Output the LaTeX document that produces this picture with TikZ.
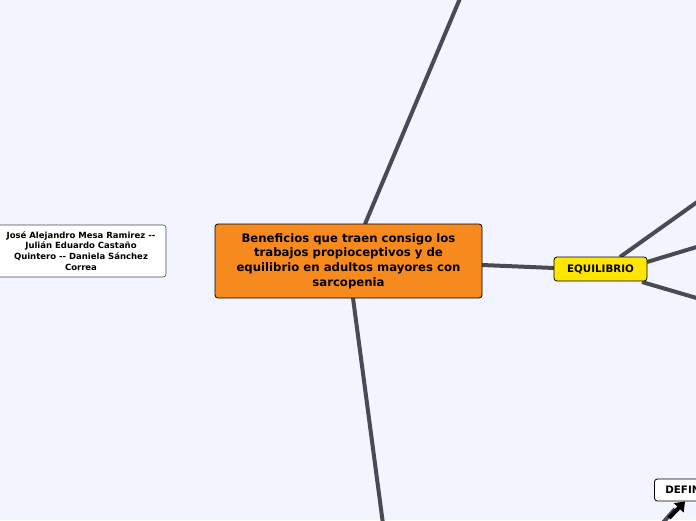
\documentclass[tikz,border=0pt]{standalone}
\usepackage{fontspec}
\setmainfont{DejaVu Sans}
\usetikzlibrary{arrows.meta}
\definecolor{bg}{RGB}{242,245,255}
\definecolor{edgec}{RGB}{74,74,82}
\definecolor{orangec}{RGB}{247,138,31}
\definecolor{yellowc}{RGB}{255,230,0}
\tikzset{
  conn/.style={draw=edgec, line width=4pt},
  topic/.style={draw=black, line width=0.8pt, rounded corners=3pt, font=\bfseries, align=center, inner sep=0pt},
}
\begin{document}
\begin{tikzpicture}[x=1pt,y=-1pt]
\fill[bg] (0,0) rectangle (696,520);
\useasboundingbox (0,0) rectangle (696,520);
\begin{scope}
\clip (0,0) rectangle (696,520);
% coordinates for free ends
\coordinate (topend) at (461,-4);
\coordinate (botend) at (383,524);
\coordinate (e1) at (700,200);
\coordinate (e2) at (700,246);
\coordinate (e3) at (700,299);
\coordinate (defin_in) at (660,526);
% connectors
\draw[conn] (365,224) -- (topend);
\draw[conn] (353,298) -- (botend);
\draw[conn] (482,265) -- (554,268);
\draw[conn] (620,257) -- (e1);
\draw[conn] (647,262) -- (e2);
\draw[conn] (642,282) -- (e3);
\draw[conn] (defin_in) -- (675,509);
% nodes
\node[topic, fill=orangec, minimum width=267pt, minimum height=74pt, font=\bfseries\fontsize{11.7}{14.6}\selectfont] (central) at (348.5,261)
  {Beneficios que traen consigo los\\trabajos propioceptivos y de\\equilibrio en adultos mayores con\\sarcopenia};
\node[topic, fill=white, draw=edgec, line width=0.6pt, minimum width=170pt, minimum height=52pt, font=\bfseries\fontsize{8.5}{10.8}\selectfont] (author) at (81,251)
  {José Alejandro Mesa Ramirez -{}-\\Julián Eduardo Castaño\\Quintero -{}- Daniela Sánchez\\Correa};
\node[topic, fill=yellowc, minimum width=93pt, minimum height=24pt, font=\bfseries\fontsize{10.3}{11}\selectfont] (equil) at (600.5,269) {EQUILIBRIO};
\node[topic, fill=white, anchor=west, minimum width=60pt, minimum height=22pt, align=left, text width=52pt, font=\bfseries\fontsize{10.3}{11}\selectfont] (defin) at (654,490) {\hspace*{7pt}DEFIN};
\draw[black, line width=4pt, -{Triangle[width=13pt,length=9pt]}] (669,518) -- (defin.south -| 685,0);
\end{scope}
\end{tikzpicture}
\end{document}
